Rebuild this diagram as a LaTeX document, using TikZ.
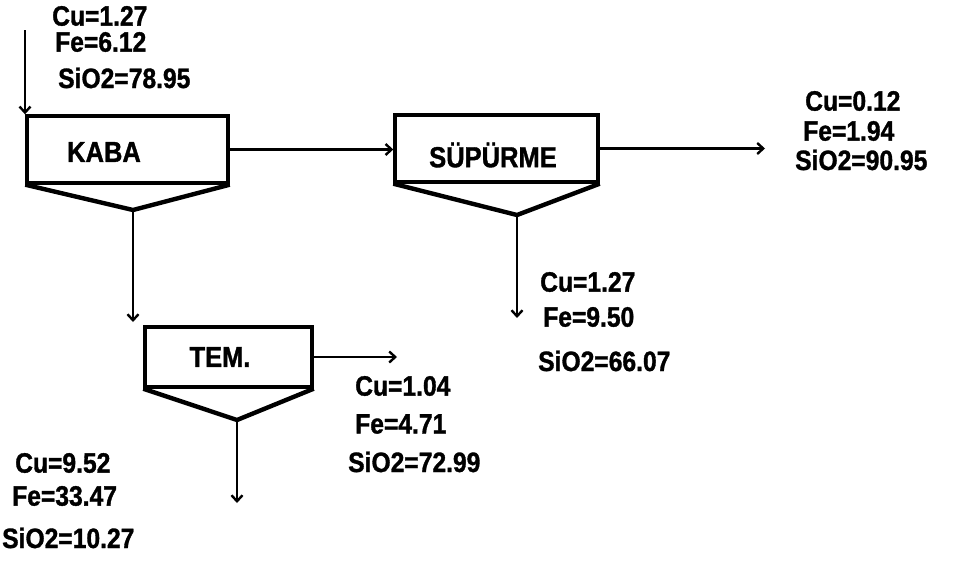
\documentclass[tikz,border=0pt]{standalone}
\usepackage{fontspec}
\newfontfamily\flowfont[FakeStretch=0.88, BoldFeatures={FakeBold=1.2}]{Liberation Sans}
\usetikzlibrary{arrows.meta}

\begin{document}
\begin{tikzpicture}[
  x = 1pt, y = -1pt,
  % cells are plain boxes, the V under each one is drawn by hand
  unit/.style     = {draw, line width=3.4pt, inner sep=0pt},
  celltext/.style = {font=\flowfont\bfseries\fontsize{29}{34}\selectfont, inner sep=0pt},
  assay/.style    = {font=\flowfont\bfseries\fontsize{28}{32}\selectfont, anchor=west, inner sep=0pt},
  cone/.style     = {line width=4.4pt, line join=round},
  flow/.style     = {line width=2.8pt, -{Straight Barb[length=6pt,width=11pt,line width=2.4pt]}},
]
\useasboundingbox (0,0) rectangle (955,565);

% --- cells
\node[unit, minimum width=201pt, minimum height=67pt] (kaba) at (127.5,149.5) {};
\node[celltext] (kabaName) at (104,152) {KABA};
\node[unit, minimum width=203pt, minimum height=67pt] (sup) at (496.5,148.5) {};
\node[celltext] (supName) at (493,155) {SÜPÜRME};
\node[unit, minimum width=167pt, minimum height=60pt] (tem) at (228.5,357) {};
\node[celltext] (temName) at (220,357) {TEM.};

% --- underflow cones
\coordinate (kabaTip) at (133,210);
\coordinate (supTip)  at (517,215);
\coordinate (temTip)  at (237,420);
\draw[cone] (kaba.south west) -- (kabaTip) -- (kaba.south east);
\draw[cone] (sup.south west) -- (supTip) -- (sup.south east);
\draw[cone] (tem.south west) -- (temTip) -- (tem.south east);

% --- streams
\coordinate (feedIn)  at (25,30);
\coordinate (supOut)  at (765,150);
\coordinate (kabaOut) at (133,322);
\coordinate (supSink) at (517,318);
\coordinate (temOut)  at (397,352);
\coordinate (temSink) at (237,503);
\draw[flow] (feedIn) -- (feedIn |- kaba.north);
\draw[flow] (kaba.east) -- (kaba.east -| sup.west);
\draw[flow] (sup.east) -- (sup.east -| supOut);
\draw[flow] (kabaTip) -- (kabaOut);
\draw[flow] (supTip) -- (supSink);
\draw[flow] (tem.east) -- (tem.east -| temOut);
\draw[flow] (temTip) -- (temSink);

% --- assays
\node[assay] (feedCu) at (52,16) {Cu=1.27};
\node[assay] (feedFe) at (55,42) {Fe=6.12};
\node[assay] (feedSi) at (58,78) {SiO2=78.95};

\node[assay] (tailCu) at (805,101) {Cu=0.12};
\node[assay] (tailFe) at (803,131) {Fe=1.94};
\node[assay] (tailSi) at (795,160) {SiO2=90.95};

\node[assay] (supCu) at (540,282) {Cu=1.27};
\node[assay] (supFe) at (543,317) {Fe=9.50};
\node[assay] (supSi) at (538,361) {SiO2=66.07};

\node[assay] (temCu) at (355,386) {Cu=1.04};
\node[assay] (temFe) at (355,424) {Fe=4.71};
\node[assay] (temSi) at (348,462) {SiO2=72.99};

\node[assay] (concCu) at (15,463) {Cu=9.52};
\node[assay] (concFe) at (12,496) {Fe=33.47};
\node[assay] (concSi) at (2,538) {SiO2=10.27};

\end{tikzpicture}
\end{document}
